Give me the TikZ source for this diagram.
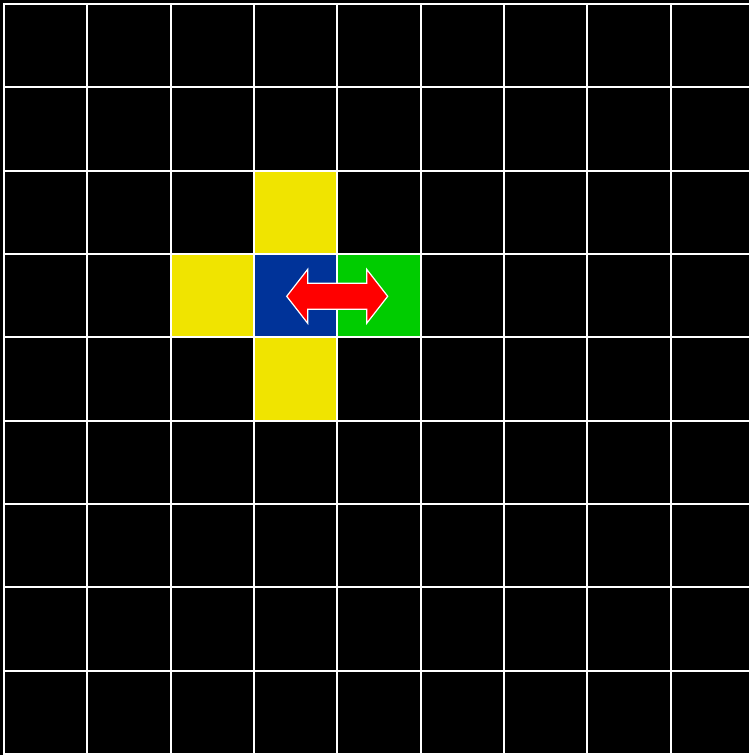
\documentclass[tikz,border=0pt]{standalone}
\begin{document}
\begin{tikzpicture}[x=1pt,y=-1pt,
  cellyellow/.style={fill={rgb,255:red,240;green,228;blue,0}},
  cellblue/.style={fill={rgb,255:red,0;green,51;blue,153}},
  cellgreen/.style={fill={rgb,255:red,0;green,204;blue,0}},
  gridline/.style={draw=white,line width=2pt},
  arrowshape/.style={fill=red,draw=white,line width=1.2pt,line join=miter}]
\useasboundingbox (0,0) rectangle (749,755);
\fill[black] (0,0) rectangle (749,755);
\def\cs{83.333}
% coloured cells
\fill[cellyellow] ({4+3*\cs},{4+2*\cs}) rectangle ({4+4*\cs},{4+3*\cs});
\fill[cellyellow] ({4+2*\cs},{4+3*\cs}) rectangle ({4+3*\cs},{4+4*\cs});
\fill[cellyellow] ({4+3*\cs},{4+4*\cs}) rectangle ({4+4*\cs},{4+5*\cs});
\fill[cellblue] ({4+3*\cs},{4+3*\cs}) rectangle ({4+4*\cs},{4+4*\cs});
\fill[cellgreen] ({4+4*\cs},{4+3*\cs}) rectangle ({4+5*\cs},{4+4*\cs});
% grid
\foreach \k in {0,...,9}{
  \draw[gridline] ({4+\k*\cs},3) -- ({4+\k*\cs},760);
  \draw[gridline] (3,{4+\k*\cs}) -- (760,{4+\k*\cs});
}
% double arrow
\draw[arrowshape] (286.7,296.3) -- (307.7,269.3) -- (307.7,283.3) -- (366.7,283.3)
  -- (366.7,269.3) -- (387.7,296.3) -- (366.7,323.3) -- (366.7,309.3)
  -- (307.7,309.3) -- (307.7,323.3) -- cycle;
\end{tikzpicture}
\end{document}
